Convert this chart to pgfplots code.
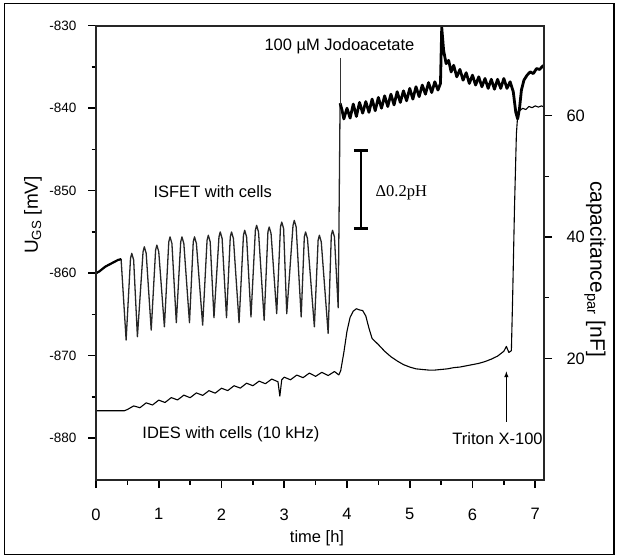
\documentclass[border=0pt]{standalone}
\usepackage{fontspec}
\setmainfont{Liberation Sans}
\newfontfamily\seriffont{Liberation Serif}
\usepackage{pgfplots}
\pgfplotsset{compat=1.18}
\newcommand\fs[1]{\fontsize{#1}{#1}\selectfont}
\begin{document}
\begin{tikzpicture}
\path[use as bounding box] (0pt,0pt) rectangle (618pt,558pt);
\draw[line width=1.8pt] (4.5pt,3.5pt) rectangle (614pt,554.5pt);
\pgfplotsset{
  common/.style={
    at={(96pt,78pt)}, anchor=south west, scale only axis,
    width=448pt, height=454.3pt,
    xmin=0, xmax=7.14,
    tick align=outside,
    major tick length=8pt, minor tick length=4.5pt,
    major tick style={draw=black, line width=1.6pt},
    minor tick style={draw=black, line width=1.4pt},
    axis line style={draw=black!85, line width=2.2pt},
    /pgf/number format/assume math mode=true,
  }
}
\begin{axis}[common, name=ax1,
  ymin=-885.07, ymax=-830,
  axis x line*=bottom, axis y line*=left,
  xtick={0,1,...,7}, minor x tick num=1,
  ytick={-880,-870,-860,-850,-840,-830},
  yticklabels={-880,-870,-860,-850,-840,-830},
  minor y tick num=1,
  xticklabel style={font=\fs{16.5}, anchor=north, yshift=-17pt},
  yticklabel style={font=\fs{13.5}, anchor=east, xshift=-8pt},
  clip=true,
]
% ISFET, oscillating part
\addplot[black!85, line width=1.3pt, line join=round] coordinates {
(0.00,-860.0)(0.05,-859.8)(0.10,-859.5)(0.15,-859.2)(0.20,-859.0)(0.25,-858.8)(0.30,-858.6)(0.35,-858.4)(0.40,-858.3)
(0.48,-868.1)
(0.55,-858.2)(0.57,-857.6)(0.60,-858.4)
(0.66,-867.7)
(0.75,-857.4)(0.77,-856.8)(0.80,-857.6)
(0.88,-866.9)
(0.95,-857.2)(0.97,-856.6)(1.00,-857.4)
(1.09,-866.5)
(1.16,-856.2)(1.18,-855.6)(1.21,-856.4)
(1.28,-866.0)
(1.35,-856.2)(1.37,-855.6)(1.40,-856.4)
(1.49,-866.0)
(1.55,-856.2)(1.57,-855.6)(1.60,-856.4)
(1.70,-866.3)
(1.77,-856.0)(1.79,-855.4)(1.82,-856.2)
(1.88,-865.4)
(1.96,-855.6)(1.98,-855.0)(2.01,-855.8)
(2.08,-865.4)
(2.14,-855.6)(2.16,-855.0)(2.19,-855.8)
(2.28,-866.0)
(2.35,-855.4)(2.37,-854.8)(2.40,-855.6)
(2.47,-865.3)
(2.54,-854.8)(2.56,-854.2)(2.59,-855.0)
(2.68,-865.7)
(2.74,-855.0)(2.76,-854.4)(2.79,-855.2)
(2.88,-864.9)
(2.94,-854.4)(2.96,-853.8)(2.99,-854.6)
(3.04,-864.9)
(3.14,-854.2)(3.16,-853.6)(3.19,-854.4)
(3.27,-865.3)
(3.32,-855.6)(3.34,-855.0)(3.37,-855.8)
(3.48,-866.5)
(3.54,-856.0)(3.56,-855.4)(3.59,-856.2)
(3.70,-867.3)
(3.75,-855.4)(3.77,-854.8)(3.80,-855.6)
(3.86,-864.2)
(3.875,-852.0)(3.89,-839.4)
};
% thicker start segment
\addplot[black, line width=2.2pt, line join=round] coordinates {
(0.00,-860.0)(0.05,-859.8)(0.10,-859.5)(0.15,-859.2)(0.20,-859.0)(0.25,-858.8)(0.30,-858.6)(0.35,-858.4)(0.40,-858.3)
};
% ISFET, noisy band after Jodoacetate
\addplot[black, line width=2.8pt, line join=round] coordinates {
(3.89,-839.4)(3.92,-840.2)(3.95,-841.3)(4.00,-840.0)(4.05,-841.2)(4.10,-839.5)(4.15,-841.0)
(4.20,-839.3)(4.25,-840.6)(4.30,-839.2)(4.35,-840.5)(4.40,-838.9)(4.45,-840.3)(4.50,-838.7)
(4.55,-840.0)(4.60,-838.5)(4.65,-839.8)(4.70,-838.3)(4.75,-839.6)(4.80,-838.0)(4.85,-839.3)
(4.90,-837.9)(4.95,-839.1)(5.00,-837.6)(5.05,-838.9)(5.10,-837.4)(5.15,-838.6)(5.20,-837.2)
(5.25,-838.3)(5.30,-836.9)(5.35,-838.1)(5.40,-836.8)(5.45,-837.8)(5.49,-837.0)(5.51,-830.2)
(5.54,-833.0)(5.58,-834.6)(5.62,-834.2)(5.66,-835.6)(5.70,-834.8)(5.75,-836.2)(5.80,-835.3)
(5.85,-836.6)(5.90,-835.7)(5.95,-837.0)(6.00,-836.0)(6.05,-837.2)(6.10,-836.2)(6.15,-837.4)
(6.20,-836.4)(6.25,-837.6)(6.30,-836.5)(6.35,-837.7)(6.40,-836.5)(6.45,-837.6)(6.50,-836.4)
(6.55,-837.6)(6.60,-836.8)(6.65,-838.0)(6.69,-840.5)(6.72,-841.3)(6.75,-840.0)(6.78,-837.8)
(6.82,-836.6)(6.87,-836.0)(6.92,-835.6)(6.97,-835.8)(7.02,-835.2)(7.07,-835.3)(7.12,-834.9)(7.14,-834.8)
};
% annotations
\node[font=\fs{16.5}] at (axis cs:3.88,-832.5) {100 µM Jodoacetate};
\draw[black!80, line width=0.8pt] (axis cs:3.89,-833.9) -- (axis cs:3.89,-839.6);
\node[font=\fs{16.5}] at (axis cs:1.86,-850.1) {ISFET with cells};
\node[font=\fs{16.5}] at (axis cs:2.15,-879.5) {IDES with cells (10 kHz)};
\node[font=\fs{16.5}] at (axis cs:6.40,-880.1) {Triton X-100};
\draw[black, line width=1pt, -latex] (axis cs:6.54,-878.0) -- (axis cs:6.54,-871.9);
\draw[black, line width=2pt] (axis cs:4.22,-845.1) -- (axis cs:4.22,-854.6);
\draw[black, line width=2.6pt] (axis cs:4.11,-845.1) -- (axis cs:4.33,-845.1);
\draw[black, line width=2.6pt] (axis cs:4.11,-854.6) -- (axis cs:4.33,-854.6);
\node[anchor=west, font=\seriffont\fs{16.5}] at (axis cs:4.40,-850.2) {Δ0.2pH};
\end{axis}
\begin{axis}[common,
  ymin=0, ymax=74.8,
  axis x line=none, axis y line*=right,
  ytick={20,40,60}, minor y tick num=1,
  yticklabel style={font=\fs{16.5}, anchor=west, xshift=11pt},
]
\addplot[black, line width=1.1pt, line join=round] coordinates {
(0,11.4)(0.45,11.4)(0.5,11.6)(0.6,12.2)(0.7,11.9)(0.8,12.7)(0.9,12.35)(1.0,13.15)(1.1,12.76)
(1.2,13.57)(1.3,13.18)(1.4,13.97)(1.5,13.55)(1.6,14.34)(1.7,13.93)(1.8,14.71)(1.9,14.3)
(2.0,15.11)(2.1,14.72)(2.2,15.52)(2.3,15.13)(2.4,15.94)(2.5,15.52)(2.6,16.28)(2.7,15.85)
(2.8,16.62)(2.9,16.18)(2.93,13.8)(2.96,16.5)(3.0,16.93)(3.1,16.5)(3.2,17.28)(3.3,16.85)
(3.4,17.6)(3.5,17.07)(3.6,17.73)(3.7,17.2)(3.8,17.86)(3.87,17.3)
(3.9,18.0)(3.95,21.0)(4.0,24.5)(4.05,26.8)(4.1,27.8)(4.15,28.2)(4.2,28.0)(4.25,27.9)
(4.3,27.0)(4.35,25.0)(4.4,23.3)(4.5,22.3)(4.6,21.2)(4.7,20.3)(4.8,19.6)(4.9,19.0)
(5.0,18.6)(5.1,18.3)(5.2,18.2)(5.3,18.1)(5.4,18.1)(5.5,18.2)(5.6,18.3)(5.7,18.5)
(5.8,18.6)(5.9,18.8)(6.0,19.0)(6.1,19.2)(6.2,19.5)(6.3,19.9)(6.4,20.4)(6.5,21.2)
(6.54,22.0)(6.58,21.0)(6.62,21.3)(6.64,30)(6.67,45)(6.70,57)(6.72,60.0)(6.75,60.8)
(6.8,61.2)(6.85,61.0)(6.9,61.5)(6.95,61.3)(7.0,61.6)(7.05,61.4)(7.1,61.6)(7.14,61.4)
};
\end{axis}
\draw[black!85, line width=2.2pt, line join=miter] (ax1.south west) rectangle (ax1.north east);
\node[rotate=90, font=\fs{19}] at (33pt,343pt) {U\textsubscript{GS} [mV]};
\node[rotate=-90, font=\fs{21}] at (595pt,289pt) {capacitance\textsubscript{par} [nF]};
\node[font=\fs{16.5}] at (317pt,20pt) {time [h]};
\end{tikzpicture}
\end{document}
